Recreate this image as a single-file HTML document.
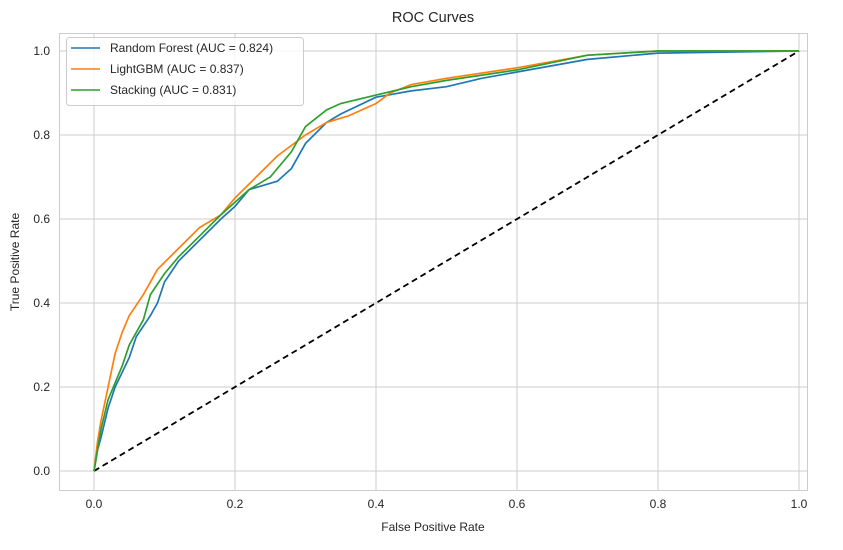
<!DOCTYPE html>
<html><head><meta charset="utf-8"><style>
body{margin:0;background:#fff;}
svg{font-family:"Liberation Sans",Arial,sans-serif;}
</style></head><body>
<svg id="chart" width="843" height="545">
<rect width="843" height="545" fill="#fff"/>
<g id="grid"></g>
<rect x="59.5" y="33.5" width="748" height="457" fill="none" stroke="#ccc"/>
<g id="ticks"></g>
<g id="series"></g>
<text x="433" y="22" font-size="14.5" text-anchor="middle" fill="#262626">ROC Curves</text>
<text x="433" y="531" font-size="12" text-anchor="middle" fill="#262626">False Positive Rate</text>
<text x="19" y="262" font-size="12" text-anchor="middle" fill="#262626" transform="rotate(-90 19 262)">True Positive Rate</text>
<g>
<rect x="66.5" y="37.5" width="237" height="68" rx="3" fill="#fff" fill-opacity="0.8" stroke="#ccc"/>
<g><line x1="71" y1="48" x2="100" y2="48" stroke="#1f77b4" stroke-width="1.6"/><text x="110" y="52" font-size="12" fill="#262626">Random Forest (AUC = 0.824)</text></g>
<g><line x1="71" y1="69" x2="100" y2="69" stroke="#ff7f0e" stroke-width="1.6"/><text x="110" y="73" font-size="12" fill="#262626">LightGBM (AUC = 0.837)</text></g>
<g><line x1="71" y1="90" x2="100" y2="90" stroke="#2ca02c" stroke-width="1.6"/><text x="110" y="94" font-size="12" fill="#262626">Stacking (AUC = 0.831)</text></g>
</g>
</svg>
<script>
const ticks=[0,0.2,0.4,0.6,0.8,1.0];
const rfFpr=[0,0.005,0.01,0.02,0.03,0.05,0.06,0.08,0.09,0.1,0.12,0.15,0.18,0.2,0.22,0.26,0.28,0.3,0.33,0.35,0.4,0.45,0.5,0.55,0.6,0.7,0.8,1];
const rfTpr=[0,0.05,0.08,0.15,0.2,0.27,0.32,0.37,0.4,0.45,0.5,0.55,0.6,0.63,0.67,0.69,0.72,0.78,0.83,0.85,0.89,0.905,0.915,0.935,0.95,0.98,0.995,1];
const lgFpr=[0,0.005,0.01,0.02,0.03,0.04,0.05,0.07,0.09,0.12,0.15,0.18,0.2,0.23,0.26,0.3,0.33,0.36,0.4,0.42,0.45,0.5,0.6,0.7,0.8,1];
const lgTpr=[0,0.07,0.12,0.2,0.28,0.33,0.37,0.42,0.48,0.53,0.58,0.61,0.65,0.7,0.75,0.8,0.83,0.845,0.875,0.9,0.92,0.935,0.96,0.99,1,1];
const stFpr=[0,0.005,0.01,0.02,0.04,0.05,0.07,0.08,0.1,0.12,0.15,0.18,0.2,0.22,0.25,0.28,0.3,0.33,0.35,0.4,0.45,0.5,0.6,0.7,0.8,1];
const stTpr=[0,0.05,0.1,0.17,0.25,0.3,0.36,0.42,0.47,0.51,0.56,0.61,0.64,0.67,0.7,0.76,0.82,0.86,0.875,0.895,0.915,0.93,0.955,0.99,1,1];
const NS="http://www.w3.org/2000/svg";
const X=v=>94+v*705, Y=v=>471-v*420;
const grid=document.getElementById('grid'), tk=document.getElementById('ticks'), ser=document.getElementById('series');
function mk(tag,attrs,parent){const e=document.createElementNS(NS,tag);for(const k in attrs)e.setAttribute(k,attrs[k]);parent.appendChild(e);return e;}
ticks.forEach(t=>{
 const gx=mk('line',{x1:X(t),x2:X(t),y1:33,y2:490,stroke:'#ccc'},grid);
 
 
 const gy=mk('line',{x1:59,x2:807,y1:Y(t),y2:Y(t),stroke:'#ccc'},grid);
 
 
 const tx=mk('text',{x:X(t),y:508,'font-size':12,'text-anchor':'middle',fill:'#262626'},tk);
 tx.textContent=t.toFixed(1);
 
 
 const ty=mk('text',{x:50,y:Y(t)+4,'font-size':12,'text-anchor':'end',fill:'#262626'},tk);
 ty.textContent=t.toFixed(1);
 
 
});
const diag=mk('line',{x1:X(0),y1:Y(0),x2:X(1),y2:Y(1),stroke:'#000','stroke-width':1.8,'stroke-dasharray':'6,4'},ser);


function curve(fx,ty,color,name){
 const p=mk('polyline',{points:fx.map((f,i)=>X(f)+','+Y(ty[i])).join(' '),fill:'none',stroke:color,'stroke-width':1.7},ser);
 
 
}
curve(rfFpr,rfTpr,'#1f77b4','rf-roc-line');
curve(lgFpr,lgTpr,'#ff7f0e','lightgbm-roc-line');
curve(stFpr,stTpr,'#2ca02c','stacking-roc-line');
</script>
</body></html>
